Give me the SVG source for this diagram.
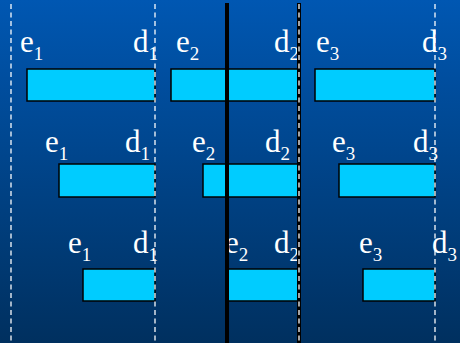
<svg xmlns="http://www.w3.org/2000/svg" width="460" height="343" viewBox="0 0 460 343">
<defs>
<linearGradient id="bg" x1="0" y1="0" x2="0" y2="1">
<stop offset="0" stop-color="#0057b2"/>
<stop offset="1" stop-color="#00305f"/>
</linearGradient>
</defs>
<style>
.bar{fill:#00ccff;stroke:#000;stroke-width:1.5}
.dash{stroke:#ffffff;stroke-opacity:0.85;stroke-width:1.5;stroke-dasharray:5 3.5;fill:none}
.solid{stroke:#000;stroke-width:4}
.lbl{font-family:"Liberation Serif","Times New Roman",serif;font-size:31px;fill:#ffffff}
.sub{font-size:19px}
</style>
<rect x="0" y="0" width="460" height="343" fill="url(#bg)"/>
<g id="row1">
<rect class="bar" x="27" y="69" width="128" height="32"/>
<rect class="bar" x="171" y="69" width="128" height="32"/>
<rect class="bar" x="315" y="69" width="120" height="32"/>
<text class="lbl" x="20" y="52">e<tspan class="sub" dy="8">1</tspan></text>
<text class="lbl" x="133" y="52">d<tspan class="sub" dy="8">1</tspan></text>
<text class="lbl" x="176" y="52">e<tspan class="sub" dy="8">2</tspan></text>
<text class="lbl" x="274" y="52">d<tspan class="sub" dy="8">2</tspan></text>
<text class="lbl" x="316" y="52">e<tspan class="sub" dy="8">3</tspan></text>
<text class="lbl" x="422" y="52">d<tspan class="sub" dy="8">3</tspan></text>
</g>
<g id="row2">
<rect class="bar" x="59" y="164" width="96" height="33"/>
<rect class="bar" x="203" y="164" width="96" height="33"/>
<rect class="bar" x="339" y="164" width="96" height="33"/>
<text class="lbl" x="45" y="152">e<tspan class="sub" dy="8">1</tspan></text>
<text class="lbl" x="125" y="152">d<tspan class="sub" dy="8">1</tspan></text>
<text class="lbl" x="192" y="152">e<tspan class="sub" dy="8">2</tspan></text>
<text class="lbl" x="265" y="152">d<tspan class="sub" dy="8">2</tspan></text>
<text class="lbl" x="332" y="152">e<tspan class="sub" dy="8">3</tspan></text>
<text class="lbl" x="413" y="152">d<tspan class="sub" dy="8">3</tspan></text>
</g>
<g id="row3">
<rect class="bar" x="83" y="269" width="72" height="32"/>
<rect class="bar" x="227" y="269" width="72" height="32"/>
<rect class="bar" x="363" y="269" width="72" height="32"/>
<text class="lbl" x="68" y="253">e<tspan class="sub" dy="8">1</tspan></text>
<text class="lbl" x="133" y="253">d<tspan class="sub" dy="8">1</tspan></text>
<text class="lbl" x="225" y="253">e<tspan class="sub" dy="8">2</tspan></text>
<text class="lbl" x="274" y="253">d<tspan class="sub" dy="8">2</tspan></text>
<text class="lbl" x="359" y="253">e<tspan class="sub" dy="8">3</tspan></text>
<text class="lbl" x="432" y="253">d<tspan class="sub" dy="8">3</tspan></text>
</g>
<g id="lines">
<line class="solid" x1="227" y1="3" x2="227" y2="343"/>
<line class="solid" x1="299" y1="3" x2="299" y2="343"/>
<line class="dash" x1="11" y1="4" x2="11" y2="343"/>
<line class="dash" x1="155" y1="4" x2="155" y2="343"/>
<line class="dash" x1="299" y1="4" x2="299" y2="343"/>
<line class="dash" x1="435" y1="4" x2="435" y2="343"/>
</g>
</svg>
